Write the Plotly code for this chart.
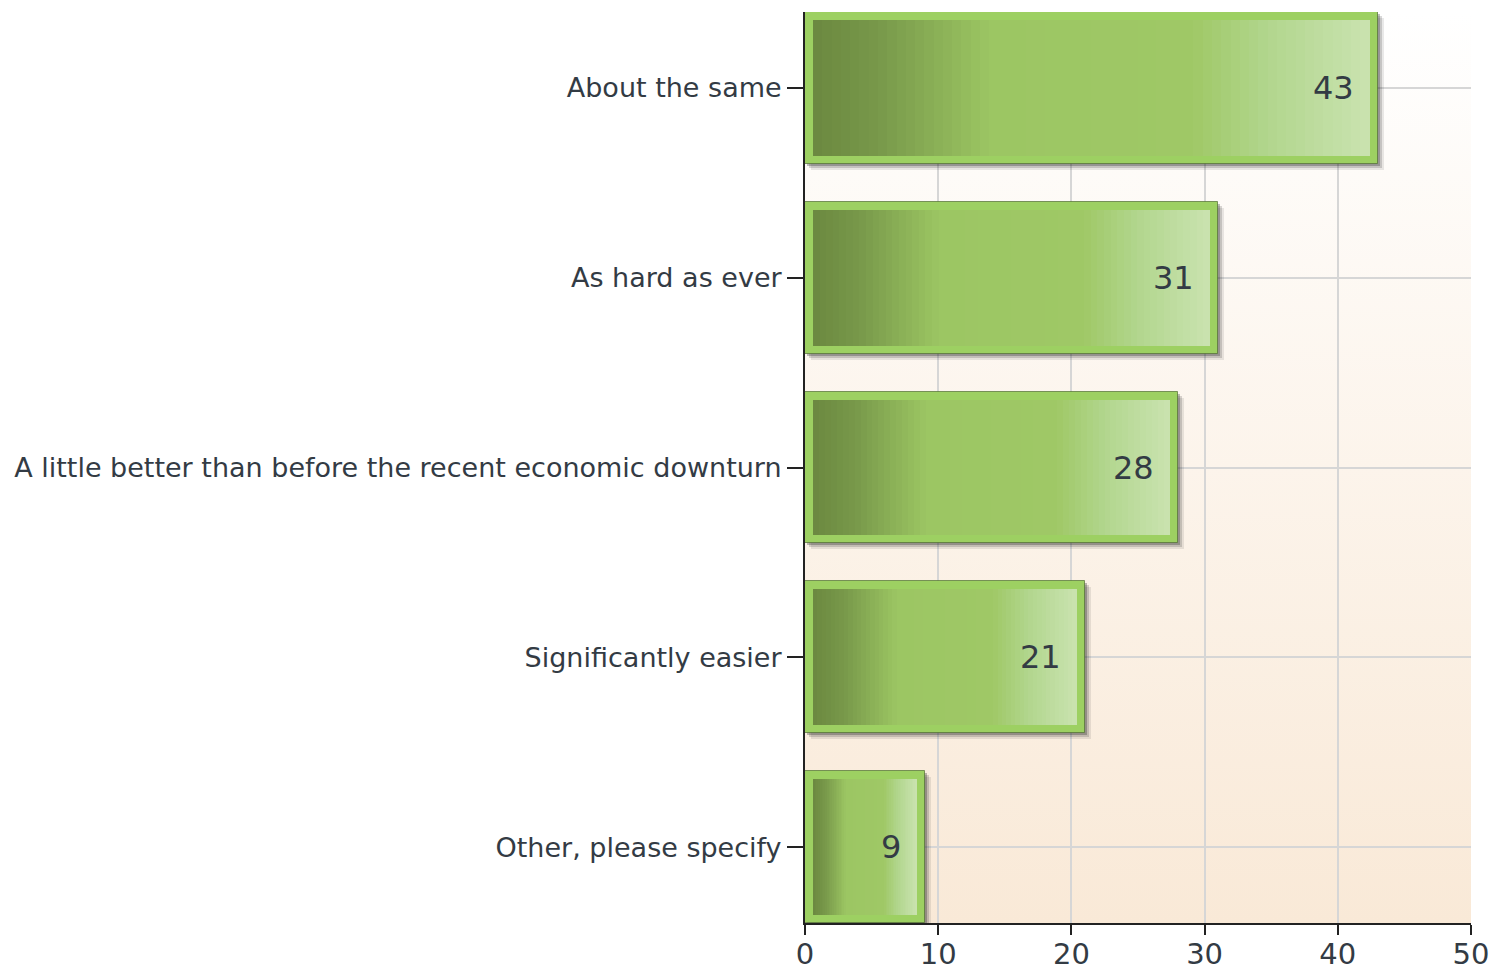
import base64
import plotly.graph_objects as go

# ---------------- data ----------------
categories = [
    "About the same",
    "As hard as ever",
    "A little better than before the recent economic downturn",
    "Significantly easier",
    "Other, please specify",
]
values = [43, 31, 28, 21, 9]
x_tick_vals = [0, 10, 20, 30, 40, 50]

# ---------------- layout constants ----------------
W, H = 1493, 971
ML, MR, MT, MB = 805, 22, 12, 48
XMAX = 50
N_CAT = len(categories)
BAR_W = 0.8
px_per_x = (W - ML - MR) / XMAX
px_per_cat = (H - MT - MB) / (N_CAT - 1 + BAR_W)
BORDER_PX = 8
inset_x = BORDER_PX / px_per_x
inner_w = BAR_W - 2 * BORDER_PX / px_per_cat

FONT = "DejaVu Sans"
TXT = "#333b44"

grad_stops = [
    (0.00, (0x6b, 0x88, 0x40)),
    (0.12, (0x78, 0x99, 0x4a)),
    (0.32, (0x9c, 0xc6, 0x63)),
    (0.68, (0x9f, 0xc8, 0x66)),
    (0.82, (0xb2, 0xd6, 0x8e)),
    (1.00, (0xca, 0xe3, 0xb0)),
]


def grad_color(f):
    for (f0, c0), (f1, c1) in zip(grad_stops[:-1], grad_stops[1:]):
        if f0 <= f <= f1:
            t = (f - f0) / (f1 - f0) if f1 > f0 else 0
            c = [round(a + (b - a) * t) for a, b in zip(c0, c1)]
            return "rgb(%d,%d,%d)" % tuple(c)
    return "rgb(%d,%d,%d)" % grad_stops[-1][1]


fig = go.Figure()

# soft shadow
for dpx, alpha in [(6, 0.10), (4, 0.18), (2, 0.30)]:
    fig.add_trace(go.Bar(
        y=categories, x=values, base=[dpx / px_per_x] * N_CAT,
        orientation="h", width=BAR_W, offset=-BAR_W / 2 + dpx / px_per_cat,
        marker=dict(color="rgba(40,40,40,%.2f)" % alpha, line=dict(width=0)),
        hoverinfo="skip", showlegend=False,
    ))

# outer bar (border colour)
fig.add_trace(go.Bar(
    y=categories, x=values, orientation="h", width=BAR_W,
    marker=dict(color="#9dd062", line=dict(color="rgba(80,110,50,0.7)", width=1)),
    hoverinfo="skip", showlegend=False,
))

# inner horizontal gradient built from thin segments
NSEG = 60
for i in range(NSEG):
    f0, f1 = i / NSEG, (i + 1) / NSEG
    span = [v - 2 * inset_x for v in values]
    fig.add_trace(go.Bar(
        y=categories,
        x=[s * (f1 - f0) + 0.03 for s in span],
        base=[inset_x + s * f0 for s in span],
        orientation="h", width=inner_w,
        marker=dict(color=grad_color((f0 + f1) / 2), line=dict(width=0)),
        hoverinfo="skip", showlegend=False,
    ))

# value labels
for c, v in zip(categories, values):
    fig.add_annotation(
        x=v, y=c, text=str(v), showarrow=False, xanchor="right", xshift=-22,
        font=dict(family=FONT, size=32, color=TXT),
    )

# vertical background gradient of the plot area
svg = (
    '<svg xmlns="http://www.w3.org/2000/svg" width="100" height="100" '
    'viewBox="0 0 100 100" preserveAspectRatio="none">'
    '<defs><linearGradient id="g" x1="0" y1="0" x2="0" y2="1">'
    '<stop offset="0" stop-color="#ffffff"/>'
    '<stop offset="1" stop-color="#f9e9d7"/>'
    '</linearGradient></defs>'
    '<rect x="0" y="0" width="100" height="100" fill="url(#g)"/></svg>'
)
svg_uri = "data:image/svg+xml;base64," + base64.b64encode(svg.encode()).decode()

fig.update_layout(
    template="none",
    width=W, height=H,
    autosize=False,
    margin=dict(l=ML, r=MR, t=MT, b=MB, pad=0),
    paper_bgcolor="white",
    plot_bgcolor="rgba(0,0,0,0)",
    barmode="overlay",
    bargap=0,
    showlegend=False,
    images=[dict(source=svg_uri, xref="paper", yref="paper", x=0, y=1,
                 sizex=1, sizey=1, xanchor="left", yanchor="top",
                 sizing="stretch", layer="below")],
    xaxis=dict(
        range=[0, XMAX], tickvals=x_tick_vals, ticks="outside", ticklen=10,
        tickwidth=2, tickcolor="#222", showline=True, linecolor="#222",
        linewidth=2, showgrid=True, gridcolor="#d6d6d6", gridwidth=2,
        zeroline=False, tickfont=dict(family=FONT, size=29, color=TXT),
        ticklabelstandoff=-6,
        automargin=False, fixedrange=True,
    ),
    yaxis=dict(
        type="category", categoryorder="array", categoryarray=categories,
        range=[N_CAT - 1 + BAR_W / 2, -BAR_W / 2],
        ticks="outside", ticklen=16, tickwidth=2, tickcolor="#222",
        showline=True, linecolor="#222", linewidth=2,
        showgrid=True, gridcolor="#d6d6d6", gridwidth=2,
        zeroline=False,
        tickfont=dict(family=FONT, size=27, color=TXT),
        automargin=False, fixedrange=True,
    ),
)

post = (
    "document.body.style.margin='0';"
    "document.body.style.padding='0';"
    "document.body.style.overflow='hidden';"
)

fig.write_html("out.html", config={"responsive": False, "displayModeBar": False},
               post_script=post)
